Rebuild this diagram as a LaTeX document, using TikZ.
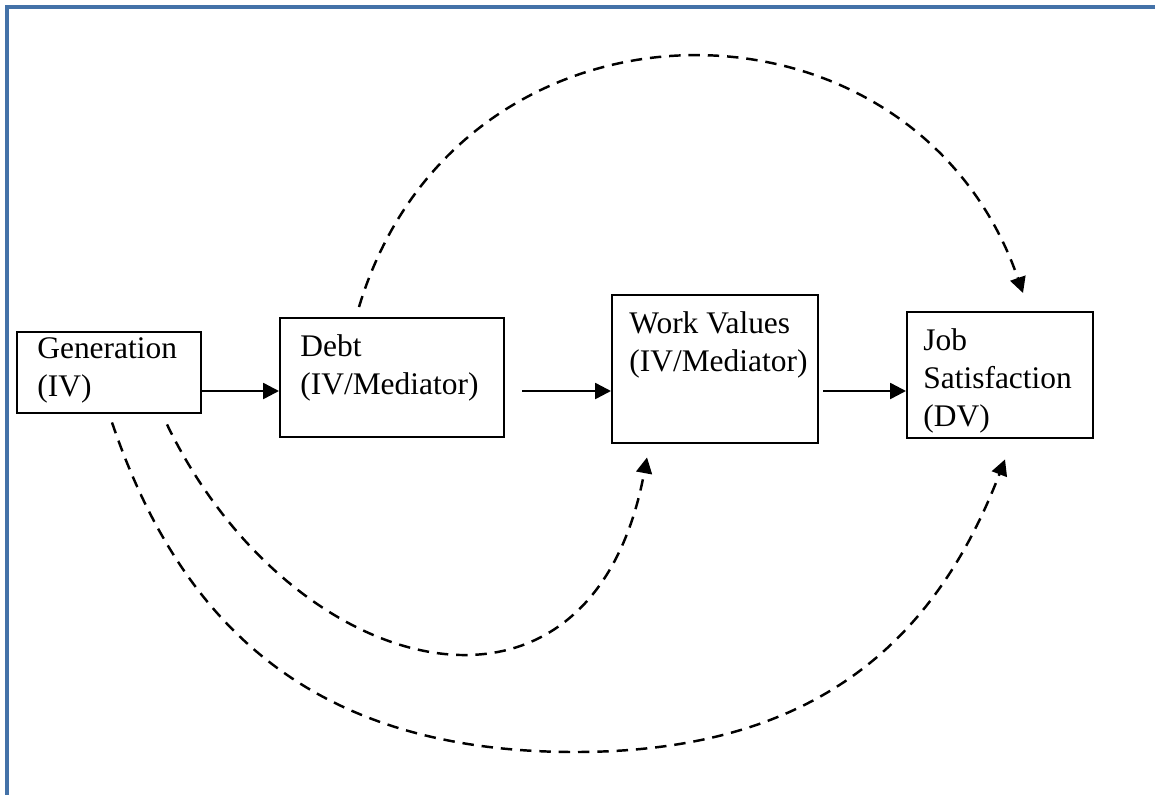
\documentclass[tikz,border=0pt]{standalone}
\usepackage{fontspec}
\setmainfont{Liberation Serif}
\usetikzlibrary{positioning, arrows.meta, calc}
\definecolor{frameblue}{HTML}{4472A8}

\begin{document}
\begin{tikzpicture}[
    x=0.02cm, y=-0.02cm,
    >={Triangle[length=9pt, width=9pt]},
    varbox/.style={draw, line width=1.4pt, inner sep=0pt, anchor=north west},
    boxtext/.style={anchor=north west, inner sep=0pt, align=left,
                    font=\fontsize{17.9pt}{21.6pt}\selectfont},
    flow/.style={->, line width=1.4pt},
    effect/.style={->, line width=1.4pt, dash pattern=on 6.5pt off 4.5pt},
]
\useasboundingbox (0,0) rectangle (1155,794);

% Page frame
\begin{scope}
  \clip (0,0) rectangle (1155,794);
  \draw[frameblue, line width=0.08cm] (7,7) rectangle (1175,815);
\end{scope}

% Boxes (left to right)
\node[varbox, minimum width=3.68cm, minimum height=1.62cm] (gen) at (16,331) {};
\node[varbox, minimum width=4.48cm, minimum height=2.38cm] (debt) at (279,317) {};
\node[varbox, minimum width=4.12cm, minimum height=2.96cm] (work) at (611,294) {};
\node[varbox, minimum width=3.72cm, minimum height=2.52cm] (job) at (906,311) {};

% Box texts
\node[boxtext] (gentext) at ([shift={(21,1)}]gen.north west) {\strut Generation\\(IV)};
\node[boxtext] (debttext) at ([shift={(21,13)}]debt.north west) {\strut Debt\\(IV/Mediator)};
\node[boxtext] (worktext) at ([shift={(18,13)}]work.north west) {\strut Work Values\\(IV/Mediator)};
\node[boxtext] (jobtext) at ([shift={(17,13)}]job.north west) {\strut Job\\Satisfaction\\(DV)};

% Main path
\coordinate (mainrow) at (0,391);
\draw[flow] (gen.east |- mainrow) -- (debt.west |- mainrow);
\draw[flow] ([xshift=0.34cm]debt.east |- mainrow) -- (work.west |- mainrow);
\draw[flow] ([xshift=0.08cm]work.east |- mainrow) -- (job.west |- mainrow);

% Indirect effects
\draw[effect] ([shift={(80,-10)}]debt.north west)
    .. controls +(100,-331) and +(-110,-317) .. ([shift={(117,-18)}]job.north west);
\draw[effect] ([shift={(151,10)}]gen.south west)
    .. controls +(125,258) and +(-56,301) .. ([shift={(36,13)}]work.south west);
\coordinate (outerlow) at (575,752);
\draw[effect] ([shift={(96,8)}]gen.south west)
    .. controls +(68,200) and +(-265,0) .. (outerlow)
    .. controls +(245,0) and +(-68,177) .. ([shift={(99,20)}]job.south west);

\end{tikzpicture}
\end{document}
